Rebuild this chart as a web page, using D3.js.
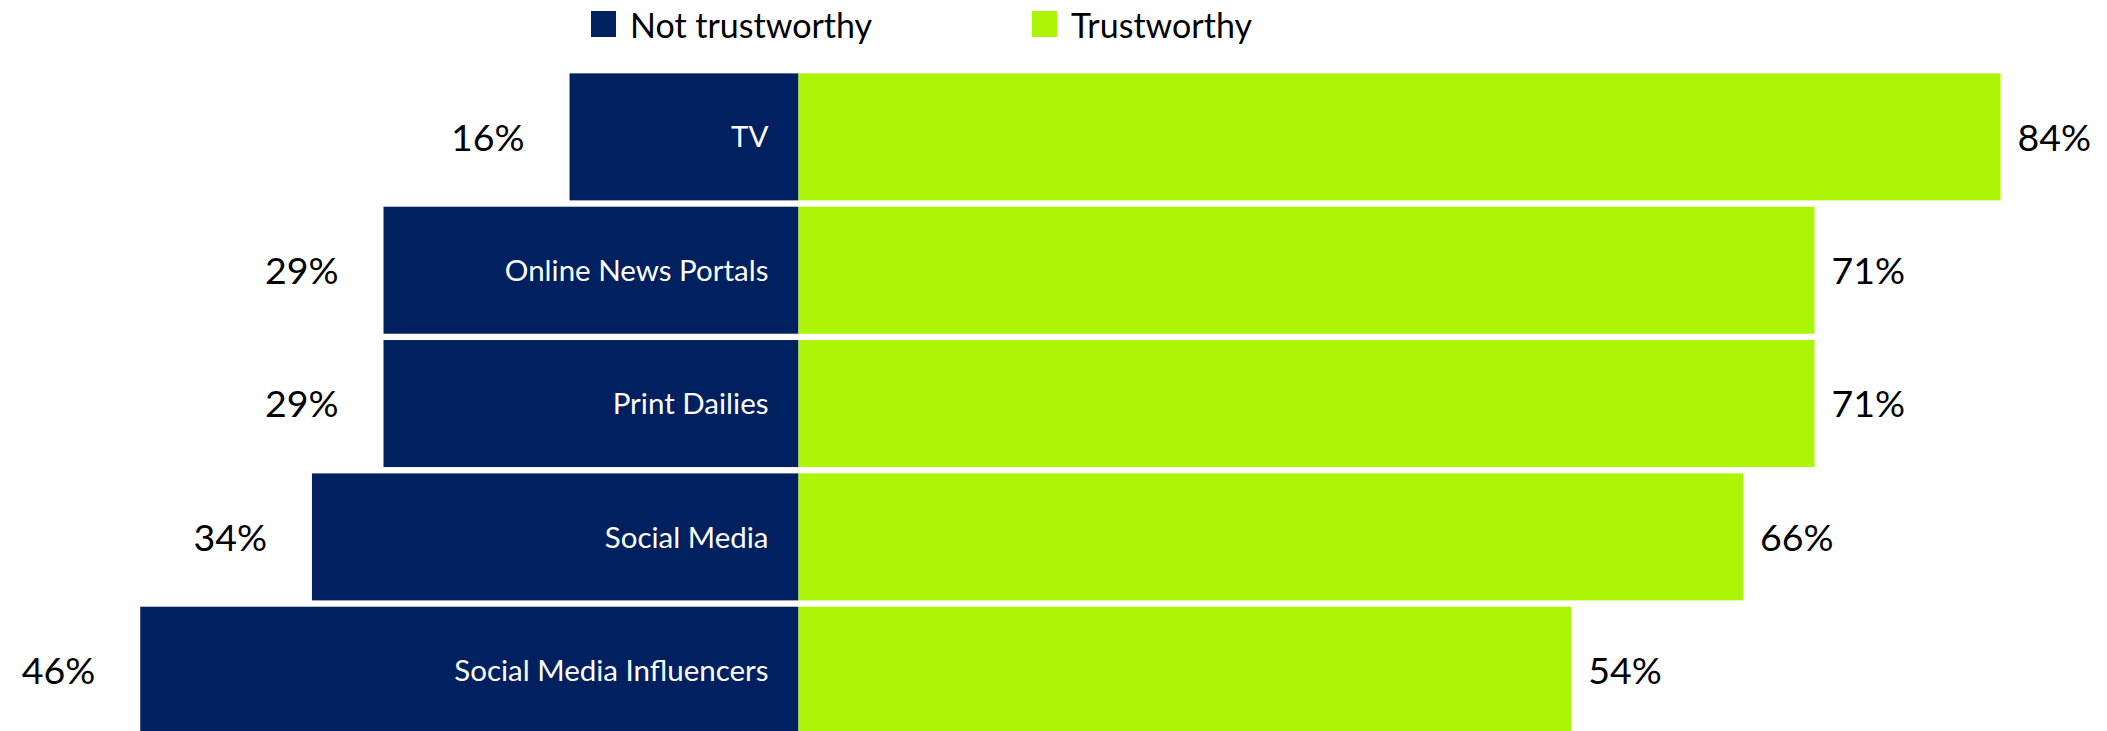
<!DOCTYPE html>
<html>
<head>
<meta charset="utf-8">
<script src="https://cdn.jsdelivr.net/npm/d3@7"></script>
<style>
  html, body { margin: 0; padding: 0; background: #fff; overflow: hidden; }
  svg { display: block; font-family: Lato, "Open Sans", sans-serif; }
</style>
</head>
<body>
<svg id="chart" width="2107" height="731"></svg>
<script>
// Trust in media channels: share of respondents rating each channel
const categories = ["TV", "Online News Portals", "Print Dailies", "Social Media", "Social Media Influencers"];
const notTrustworthy = [16, 29, 29, 34, 46];
const trustworthy = [84, 71, 71, 66, 54];
const seriesNames = ["Not trustworthy", "Trustworthy"];
const seriesColors = ["#002060", "#ADF507"];

const svg = d3.select("#chart");

// Diverging horizontal scale: negative side for "Not trustworthy", positive for "Trustworthy"
const x = d3.scaleLinear().domain([-50, 90]).range([83, 2086.4]);
const y = d3.scaleBand()
  .domain(categories)
  .range([70.2, 736.9])
  .paddingInner(0.0475)
  .paddingOuter(0.02375);

const rows = categories.map((c, i) => ({ cat: c, neg: notTrustworthy[i], pos: trustworthy[i] }));

const g = svg.append("g");

// Left (not trustworthy) bars
g.selectAll("rect.neg").data(rows).join("rect")
  .attr("class", "neg")
  .attr("x", d => x(-d.neg))
  .attr("y", d => y(d.cat))
  .attr("width", d => x(0) - x(-d.neg))
  .attr("height", y.bandwidth())
  .attr("fill", seriesColors[0]);

// Right (trustworthy) bars
g.selectAll("rect.pos").data(rows).join("rect")
  .attr("class", "pos")
  .attr("x", x(0))
  .attr("y", d => y(d.cat))
  .attr("width", d => x(d.pos) - x(0))
  .attr("height", y.bandwidth())
  .attr("fill", seriesColors[1]);

// Category names inside the dark bars, right-aligned near the centre line
g.selectAll("text.cat").data(rows).join("text")
  .attr("class", "cat")
  .attr("x", x(0) - 30)
  .attr("y", d => y(d.cat) + y.bandwidth() / 2)
  .attr("dy", "0.36em")
  .attr("text-anchor", "end")
  .attr("fill", "#fff")
  .style("font-size", "29.5px")
  .text(d => d.cat);

// Value labels outside the bar ends
g.selectAll("text.negv").data(rows).join("text")
  .attr("class", "negv")
  .attr("x", d => x(-d.neg) - 45)
  .attr("y", d => y(d.cat) + y.bandwidth() / 2)
  .attr("dy", "0.37em")
  .attr("text-anchor", "end")
  .attr("fill", "#000")
  .style("font-size", "37.5px")
  .text(d => d.neg + "%");

g.selectAll("text.posv").data(rows).join("text")
  .attr("class", "posv")
  .attr("x", d => x(d.pos) + 17)
  .attr("y", d => y(d.cat) + y.bandwidth() / 2)
  .attr("dy", "0.37em")
  .attr("text-anchor", "start")
  .attr("fill", "#000")
  .style("font-size", "37.5px")
  .text(d => d.pos + "%");

// Legend
const legendX = [591, 1032];
const legend = svg.append("g");
const items = legend.selectAll("g").data(seriesNames).join("g")
  .attr("transform", (d, i) => `translate(${legendX[i]},11)`);
items.append("rect")
  .attr("width", 25).attr("height", 26)
  .attr("fill", (d, i) => seriesColors[i]);
items.append("text")
  .attr("x", 39).attr("y", 26.5)
  .attr("fill", "#000")
  .style("font-size", "34px")
  .text(d => d);
</script>
</body>
</html>
